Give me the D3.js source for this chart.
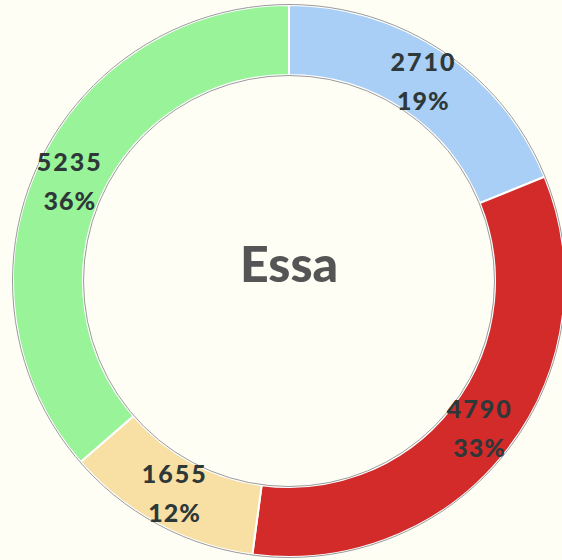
<!DOCTYPE html>
<html>
<head>
<meta charset="utf-8">
<script src="https://cdn.jsdelivr.net/npm/d3@7"></script>
<style>
  html, body { margin: 0; padding: 0; background: #fffef5; }
  svg { display: block; }
</style>
</head>
<body>
<div id="chart"></div>
<script>
var title = "Essa";
var categories = ["A", "B", "C", "D"];
var values = [2710, 4790, 1655, 5235];
var percents = ["19%", "33%", "12%", "36%"];
var colors = ["#a9cff6", "#d32a2a", "#f8e0a4", "#99f399"];

var width = 562, height = 560;
var cx = 289, cy = 281;
var outerR = 276, innerR = 206;

var svg = d3.select("#chart").append("svg")
  .attr("width", width)
  .attr("height", height);

var g = svg.append("g")
  .attr("transform", "translate(" + cx + "," + cy + ")");

var data = categories.map(function(c, i) {
  return { name: c, value: values[i], pct: percents[i], color: colors[i] };
});

var pie = d3.pie()
  .sort(null)
  .value(function(d) { return d.value; });

var arc = d3.arc()
  .innerRadius(innerR)
  .outerRadius(outerR);

var arcs = pie(data);

// slices
g.selectAll("path.slice")
  .data(arcs)
  .enter().append("path")
  .attr("class", "slice")
  .attr("d", arc)
  .attr("fill", function(d) { return d.data.color; })
  .attr("stroke", "#ffffff")
  .attr("stroke-width", 2);

// thin grey rims
[outerR + 0.5, innerR - 0.5].forEach(function(r) {
  g.append("circle")
    .attr("r", r)
    .attr("fill", "none")
    .attr("stroke", "#9a9a9a")
    .attr("stroke-width", 1);
});

// labels
var labels = g.selectAll("g.label")
  .data(arcs)
  .enter().append("g")
  .attr("class", "label")
  .attr("transform", function(d) {
    var c = arc.centroid(d);
    return "translate(" + c[0] + "," + c[1] + ")";
  });

labels.append("text")
  .attr("text-anchor", "middle")
  .attr("y", -10)
  .style("font-family", "Lato, 'Open Sans', sans-serif")
  .style("font-weight", "900")
  .style("font-size", "25px")
  .style("letter-spacing", "2px")
  .style("fill", "#2e3838")
  .text(function(d) { return d.data.value; });

labels.append("text")
  .attr("text-anchor", "middle")
  .attr("y", 29)
  .style("font-family", "Lato, 'Open Sans', sans-serif")
  .style("font-weight", "900")
  .style("font-size", "25px")
  .style("letter-spacing", "1px")
  .style("fill", "#2e3838")
  .text(function(d) { return d.data.pct; });

// centre title
g.append("text")
  .attr("text-anchor", "middle")
  .attr("y", 1)
  .style("font-family", "Lato, 'Open Sans', sans-serif")
  .style("font-weight", "900")
  .style("font-size", "50px")
  .style("fill", "#555555")
  .text(title);
</script>
</body>
</html>
